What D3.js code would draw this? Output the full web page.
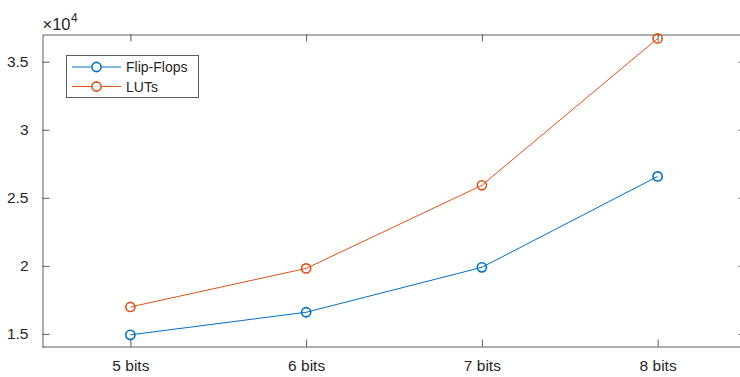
<!DOCTYPE html>
<html>
<head>
<meta charset="utf-8">
<script src="https://cdn.jsdelivr.net/npm/d3@7"></script>
<style>
  html, body { margin: 0; padding: 0; background: #fff; overflow: hidden; }
  svg { display: block; font-family: "Liberation Sans", Arial, Helvetica, sans-serif; }
</style>
</head>
<body>
<svg id="chart" width="740" height="377"></svg>
<script>
// Resource usage per bit width
const categories = ["5 bits", "6 bits", "7 bits", "8 bits"];
const flipFlops = [14930, 16590, 19890, 26570];
const luts = [16980, 19810, 25920, 36710];
const yTicks = [15000, 20000, 25000, 30000, 35000];
const yTickLabels = ["1.5", "2", "2.5", "3", "3.5"];
const seriesNames = ["Flip-Flops", "LUTs"];
const seriesColors = ["#0072BD", "#D95319"];

const svg = d3.select("#chart");
const axisColor = "#262626";
const plotLeft = 42.5, plotRight = 745.5, plotTop = 34.5, plotBottom = 346.5;

const x = d3.scaleLinear().domain([0.5, categories.length + 0.5]).range([plotLeft, plotRight]);
const y = d3.scaleLinear().domain([14000, 37000]).range([plotBottom + 1, plotTop]);

const tickLen = 7;

// Box axes
const gBottom = svg.append("g").attr("transform", `translate(0,${plotBottom})`)
  .call(d3.axisBottom(x).tickValues(d3.range(1, categories.length + 1))
    .tickFormat((d) => categories[d - 1]).tickSizeInner(-tickLen).tickSizeOuter(0).tickPadding(13));
const gTop = svg.append("g").attr("transform", `translate(0,${plotTop})`)
  .call(d3.axisTop(x).tickValues(d3.range(1, categories.length + 1))
    .tickFormat("").tickSizeInner(-tickLen).tickSizeOuter(0));
const gLeft = svg.append("g").attr("transform", `translate(${plotLeft},0)`)
  .call(d3.axisLeft(y).tickValues(yTicks)
    .tickFormat((d, i) => yTickLabels[i]).tickSizeInner(-tickLen).tickSizeOuter(0).tickPadding(14));
const gRight = svg.append("g").attr("transform", `translate(${plotRight},0)`)
  .call(d3.axisRight(y).tickValues(yTicks).tickFormat("").tickSizeInner(-tickLen).tickSizeOuter(0));

[gBottom, gTop, gLeft, gRight].forEach((g) => {
  g.select(".domain").attr("stroke", axisColor).attr("stroke-width", 1).attr("stroke-opacity", 0.75);
  g.selectAll(".tick line").attr("stroke", axisColor).attr("stroke-width", 1).attr("stroke-opacity", 0.75);
  g.selectAll(".tick text").attr("fill", axisColor).attr("font-size", "15.5px")
    .attr("font-family", "'Liberation Sans', Arial, Helvetica, sans-serif");
});

// Exponent label
const expo = svg.append("text").attr("x", plotLeft).attr("y", 30).attr("fill", axisColor)
  .attr("font-size", "16.5px");
expo.append("tspan").text("\u00d710");
expo.append("tspan").attr("font-size", "12px").attr("dy", -8).attr("dx", 0.5).text("4");

// Series
const data = [flipFlops, luts];
const line = d3.line().x((d, i) => x(i + 1)).y((d) => y(d));
data.forEach((vals, s) => {
  svg.append("path").datum(vals).attr("d", line)
    .attr("fill", "none").attr("stroke", seriesColors[s]).attr("stroke-width", 1);
  svg.append("g").selectAll("circle").data(vals).join("circle")
    .attr("cx", (d, i) => x(i + 1)).attr("cy", (d) => y(d)).attr("r", 4.6)
    .attr("fill", "none").attr("stroke", seriesColors[s]).attr("stroke-width", 1.6);
});

// Legend
const legend = svg.append("g");
legend.append("rect").attr("x", 66.5).attr("y", 55.5).attr("width", 132).attr("height", 42)
  .attr("fill", "#fff").attr("stroke", axisColor).attr("stroke-opacity", 0.75).attr("stroke-width", 1);
seriesNames.forEach((name, s) => {
  const ly = 67 + s * 19.5;
  legend.append("line").attr("x1", 72).attr("x2", 121).attr("y1", ly).attr("y2", ly)
    .attr("stroke", seriesColors[s]).attr("stroke-width", 1);
  legend.append("circle").attr("cx", 96.5).attr("cy", ly).attr("r", 4.6)
    .attr("fill", "#fff").attr("stroke", seriesColors[s]).attr("stroke-width", 1.6);
  legend.append("text").attr("x", 126).attr("y", ly + 5).attr("fill", axisColor)
    .attr("font-size", "14px").text(name);
});
</script>
</body>
</html>
